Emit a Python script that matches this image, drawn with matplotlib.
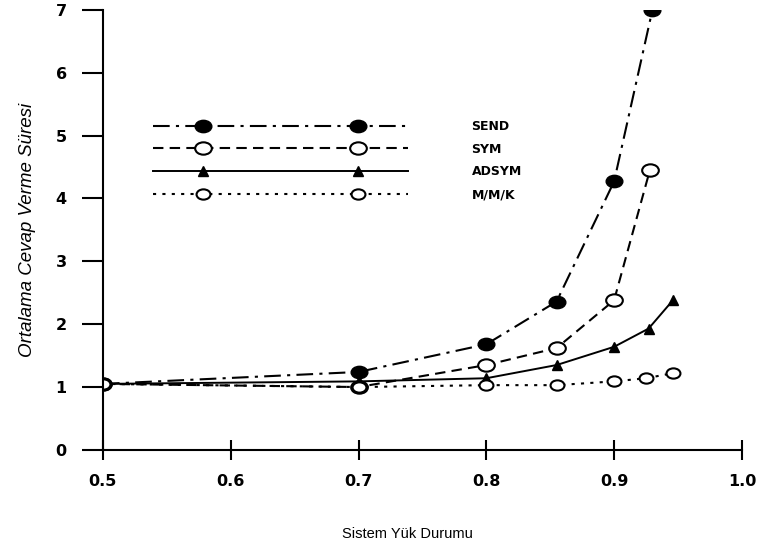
import numpy as np
import matplotlib.pyplot as plt
from matplotlib.lines import Line2D
from matplotlib.path import Path
from matplotlib.transforms import Affine2D
from matplotlib.legend_handler import HandlerLine2D

# Sistem yük durumu (x) ve ortalama cevap verme süresi (y)
x_send = [0.5, 0.7, 0.8, 0.855, 0.9, 0.93]
y_send = [1.05, 1.24, 1.68, 2.36, 4.27, 7.0]

x_sym = [0.5, 0.7, 0.8, 0.855, 0.9, 0.928]
y_sym = [1.05, 1.0, 1.35, 1.62, 2.38, 4.45]

x_adsym = [0.5, 0.7, 0.8, 0.855, 0.9, 0.927, 0.946]
y_adsym = [1.05, 1.09, 1.14, 1.35, 1.64, 1.93, 2.38]

x_mmk = [0.5, 0.7, 0.8, 0.855, 0.9, 0.925, 0.946]
y_mmk = [1.05, 1.0, 1.03, 1.03, 1.09, 1.14, 1.22]

x_ticks = [0.5, 0.6, 0.7, 0.8, 0.9, 1.0]
y_ticks = [0, 1, 2, 3, 4, 5, 6, 7]

# yatay basik daire (taranmis sekildeki gibi)
ellipse = Path.unit_circle().transformed(Affine2D().scale(1.35, 1.0))


class LongLineHandler(HandlerLine2D):
    # cizgi tum uzunlukta, iki isaret icerde
    def create_artists(self, legend, orig_handle, xdescent, ydescent,
                       width, height, fontsize, trans):
        pad = 4.0 * fontsize
        x0 = -xdescent
        xdata = np.array([x0, x0 + pad, x0 + width - pad, x0 + width])
        ydata = np.full_like(xdata, (height - ydescent) / 2)
        legline = Line2D(xdata, ydata)
        self.update_prop(legline, orig_handle, legend)
        legline.set_markevery([1, 2])
        legline.set_transform(trans)
        return [legline]


fig = plt.figure(figsize=(7.68, 5.48), dpi=100)
ax = fig.add_axes([0.134, 0.179, 0.832, 0.803])

l1, = ax.plot(x_send, y_send, color='black', lw=1.5, ls=(0, (8, 3, 1.5, 3)),
              marker=ellipse, ms=12, mfc='black', mec='black', label='SEND')
l2, = ax.plot(x_sym, y_sym, color='black', lw=1.5, ls=(0, (5, 3)),
              marker=ellipse, ms=12, mfc='white', mec='black', mew=1.5, label='SYM')
l3, = ax.plot(x_adsym, y_adsym, color='black', lw=1.4, ls='-',
              marker='^', ms=7, mfc='black', mec='black', label='ADSYM')
l4, = ax.plot(x_mmk, y_mmk, color='black', lw=1.5, ls=(0, (1.5, 3)),
              marker=ellipse, ms=10, mfc='white', mec='black', mew=1.5, label='M/M/K')

ax.set_xlim(0.5, 1.0)
ax.set_ylim(0, 7)
ax.set_xticks(x_ticks)
ax.set_xticklabels([f"{v:.1f}" for v in x_ticks])
ax.set_yticks(y_ticks)

for s in ['top', 'right']:
    ax.spines[s].set_visible(False)
for s in ['left', 'bottom']:
    ax.spines[s].set_linewidth(1.5)

ax.tick_params(axis='x', direction='inout', length=14, width=1.5, pad=10)
ax.tick_params(axis='y', direction='out', length=15, width=1.5, pad=11)
for lbl in ax.get_xticklabels() + ax.get_yticklabels():
    lbl.set_fontfamily('DejaVu Sans')
    lbl.set_fontweight('bold')
    lbl.set_fontsize(11.5)

ax.set_xlabel("Sistem Yük Durumu", fontsize=10.5,
              family=['Liberation Sans', 'DejaVu Sans'])
ax.xaxis.set_label_coords(0.477, -0.175)
ax.set_ylabel("Ortalama Cevap Verme Süresi", fontsize=13.5, style='italic',
              family=['Liberation Sans', 'DejaVu Sans'])
ax.yaxis.set_label_coords(-0.105, 0.5)

handler = LongLineHandler()
leg = ax.legend(handles=[l1, l2, l3, l4], loc='upper left',
                bbox_to_anchor=(0.078, 0.75), frameon=False,
                borderpad=0, borderaxespad=0,
                handlelength=20.4, handletextpad=5.1, labelspacing=0.78,
                handler_map={l1: handler, l2: handler, l3: handler, l4: handler},
                prop={'family': 'DejaVu Sans', 'weight': 'bold', 'size': 9})

fig.savefig('out.png', dpi=100)
